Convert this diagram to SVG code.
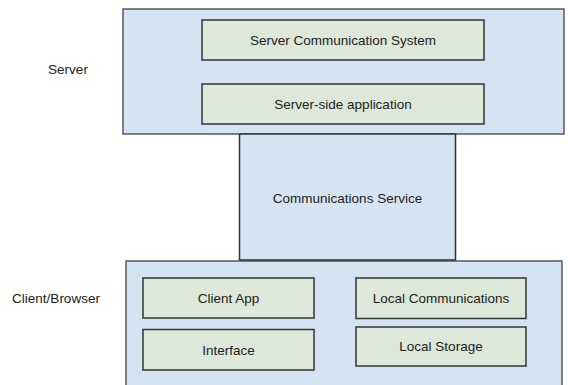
<svg xmlns="http://www.w3.org/2000/svg" width="568" height="385" viewBox="0 0 568 385">
<style>
.outer{fill:#d5e4f2;stroke:#595959;stroke-width:1.5}
.inner{fill:#dde8d9;stroke:#333;stroke-width:1.5}
text{font-family:"Liberation Sans",Arial,sans-serif;font-size:13.5px;fill:#222;text-anchor:middle;dominant-baseline:central}
</style>
<rect width="568" height="385" fill="#fff"/>
<g id="server">
<rect class="outer" x="123" y="9" width="441" height="125"/>
</g>
<g id="client">
<rect class="outer" x="126" y="261" width="436" height="130"/>
</g>
<g id="comm-service">
<rect class="outer" x="239.5" y="134" width="216" height="126" style="stroke:#333"/>
<text x="347.5" y="198">Communications Service</text>
</g>
<g id="server-comm-system">
<rect class="inner" x="202" y="20" width="282" height="40"/>
<text x="343" y="40">Server Communication System</text>
</g>
<g id="server-side-app">
<rect class="inner" x="202" y="84" width="282" height="40"/>
<text x="343" y="104">Server-side application</text>
</g>
<g id="client-app">
<rect class="inner" x="143" y="278" width="171" height="40"/>
<text x="228.5" y="298">Client App</text>
</g>
<g id="interface">
<rect class="inner" x="143" y="329.5" width="171" height="40.5"/>
<text x="228.5" y="350">Interface</text>
</g>
<g id="local-comms">
<rect class="inner" x="356" y="278" width="170" height="40.5"/>
<text x="441" y="298">Local Communications</text>
</g>
<g id="local-storage">
<rect class="inner" x="356" y="327" width="170" height="39"/>
<text x="441" y="346.5">Local Storage</text>
</g>
<g id="labels">
<text x="68" y="69">Server</text>
<text x="56" y="298">Client/Browser</text>
</g>
<g id="connectors"></g>
</svg>
